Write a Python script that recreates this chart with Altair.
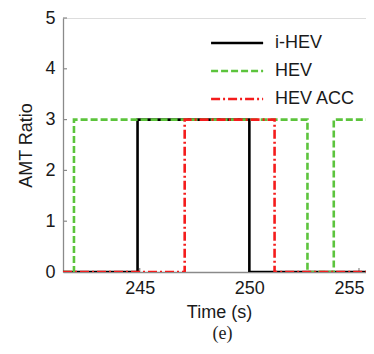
import altair as alt
import pandas as pd

series = ["i-HEV", "HEV", "HEV ACC"]
ihev_t = [241.5, 244.9, 250.0, 255.4]
ihev_v = [0, 3, 0, 0]
hev_t = [241.5, 242.0, 252.65, 253.85, 255.4]
hev_v = [0, 3, 0, 3, 3]
acc_t = [241.5, 247.05, 251.15, 255.4]
acc_v = [0, 3, 0, 0]
x_ticks = [245, 250, 255]
y_ticks = [0, 1, 2, 3, 4, 5]
colors = ["#000000", "#5cc43c", "#f41c1c"]
dashes = [[1, 0], [7, 3], [9, 3, 2, 3]]

rows = []
for name, ts, vs in zip(series, [ihev_t, hev_t, acc_t], [ihev_v, hev_v, acc_v]):
    for t, v in zip(ts, vs):
        rows.append({"series": name, "time": t, "ratio": v})
df = pd.DataFrame(rows)

FONT = "Liberation Sans"
xscale = alt.Scale(domain=[241.5, 255.32], nice=False, zero=False)
yscale = alt.Scale(domain=[0, 5], nice=False)

legend = alt.Legend(title=None, orient="none", legendX=185, legendY=16,
                    symbolType="M-7.5,0H1", symbolSize=150,
                    symbolStrokeWidth=2.6, labelFont=FONT, labelFontSize=18,
                    labelColor="#1a1a1a", labelOffset=9, rowPadding=10, padding=0)

lines = alt.Chart(df).mark_line(interpolate="step-after", strokeWidth=2.6, clip=True).encode(
    x=alt.X("time:Q", scale=xscale,
            axis=alt.Axis(values=x_ticks, title="Time (s)", format="d", ticks=False, grid=False,
                          domainColor="#8a8a8a", domainWidth=1.3, labelFont=FONT, labelFontSize=18,
                          labelColor="#1a1a1a", labelPadding=7, titleFont=FONT, titleFontSize=18,
                          titleFontWeight="normal", titleColor="#1a1a1a", titlePadding=6,
                          titleX=156, titleAlign="center",
                          labelOffset={"condition": {"test": "datum.value == 255", "value": -10}, "value": 0})),
    y=alt.Y("ratio:Q", scale=yscale,
            axis=alt.Axis(values=y_ticks, title="AMT Ratio", ticks=False, grid=False,
                          domainColor="#8a8a8a", domainWidth=1.3, labelFont=FONT, labelFontSize=18,
                          labelColor="#1a1a1a", labelPadding=8, titleFont=FONT, titleFontSize=18,
                          titleFontWeight="normal", titleColor="#1a1a1a", titlePadding=9)),
    color=alt.Color("series:N", scale=alt.Scale(domain=series, range=colors),
                    sort=series, legend=legend),
    strokeDash=alt.StrokeDash("series:N", scale=alt.Scale(domain=series, range=dashes),
                              sort=series, legend=legend),
)

ytick_df = pd.DataFrame({"v": y_ticks})
yt = alt.Chart(ytick_df).mark_rule(color="#8a8a8a", strokeWidth=1.2).encode(
    y=alt.Y("v:Q", scale=yscale), x=alt.value(0), x2=alt.value(4))
xtick_df = pd.DataFrame({"t": x_ticks})
xt = alt.Chart(xtick_df).mark_rule(color="#8a8a8a", strokeWidth=1.2).encode(
    x=alt.X("t:Q", scale=xscale), y=alt.value(254), y2=alt.value(250))

chart = alt.layer(yt, xt, lines).properties(
    width=303, height=254,
    autosize=alt.AutoSizeParams(type="none"),
    padding={"left": 55, "top": 10, "right": 0, "bottom": 74},
    title=alt.TitleParams(text="(e)", orient="bottom", anchor="middle", font="Liberation Serif",
                          fontSize=18, fontWeight="normal", color="#222222", offset=4, dx=8),
).configure_view(stroke=None).configure(background="white")

chart.save("out.html", embed_options={"renderer": "svg", "actions": False})
